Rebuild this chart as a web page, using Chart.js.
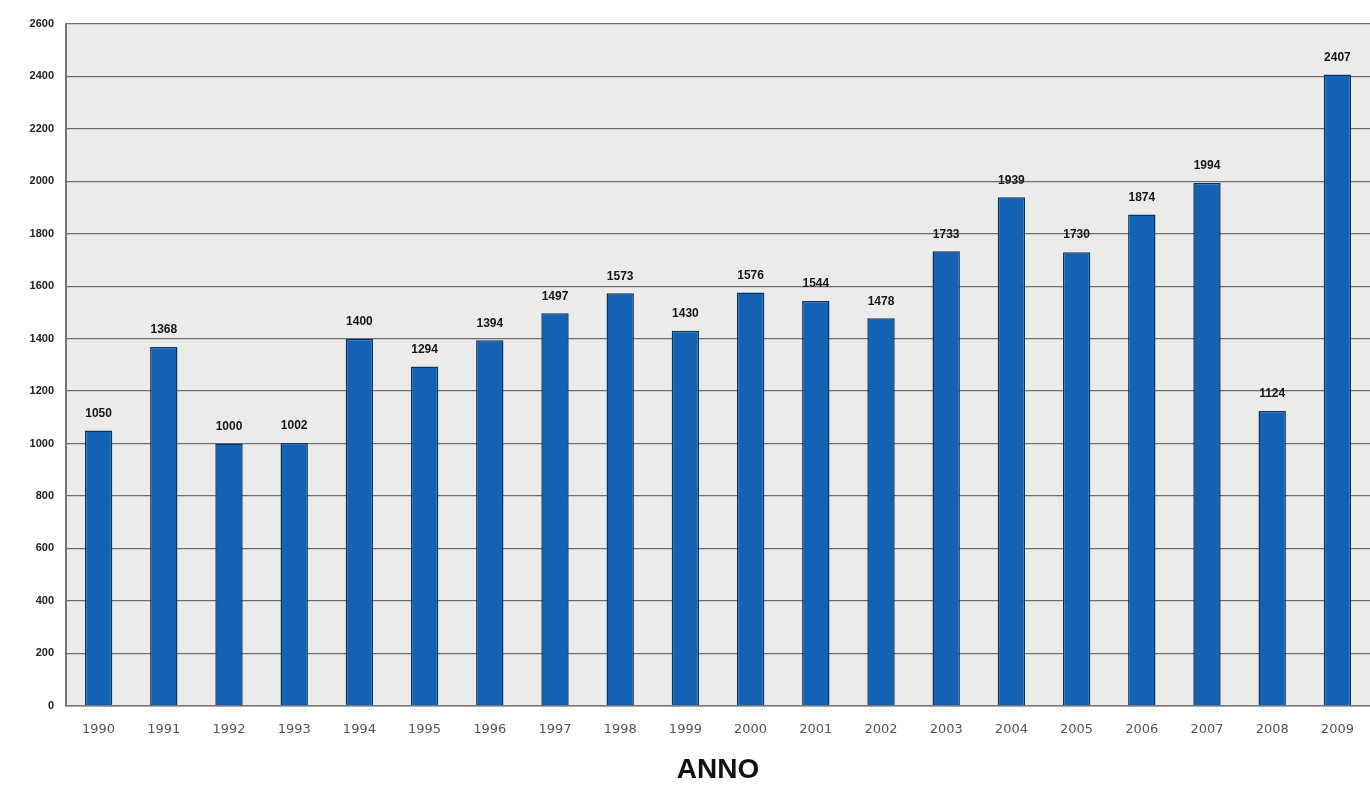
<!DOCTYPE html>
<html>
<head>
<meta charset="utf-8">
<script src="https://cdn.jsdelivr.net/npm/chart.js@4"></script>
<style>
  html, body { margin: 0; padding: 0; background: #ffffff; }
  #wrap { width: 1370px; height: 787px; }
</style>
</head>
<body>
<div id="wrap"><canvas id="chart"></canvas></div>
<script>
const anni = ["1990", "1991", "1992", "1993", "1994", "1995", "1996", "1997", "1998", "1999",
  "2000", "2001", "2002", "2003", "2004", "2005", "2006", "2007", "2008", "2009"];
const valori = [1050, 1368, 1000, 1002, 1400, 1294, 1394, 1497, 1573, 1430,
  1576, 1544, 1478, 1733, 1939, 1730, 1874, 1994, 1124, 2407];

// sfondo grigio dell'area del grafico
const sfondoArea = {
  id: "sfondoArea",
  beforeDraw(chart) {
    const { ctx, chartArea: a } = chart;
    ctx.save();
    ctx.fillStyle = "#ebebe9";
    ctx.fillRect(a.left, a.top, a.right - a.left, a.bottom - a.top);
    ctx.restore();
  },
};

// etichette sopra le barre
const etichette = {
  id: "etichette",
  afterDatasetsDraw(chart) {
    const { ctx } = chart;
    const meta = chart.getDatasetMeta(0);
    ctx.save();
    ctx.font = "bold 12px 'Liberation Sans', Arial, sans-serif";
    ctx.fillStyle = "#151515";
    ctx.textAlign = "center";
    ctx.textBaseline = "bottom";
    meta.data.forEach((bar, i) => {
      ctx.fillText(valori[i], bar.x, bar.y - 11);
    });
    ctx.restore();
  },
};

new Chart(document.getElementById("chart"), {
  type: "bar",
  data: {
    labels: anni,
    datasets: [
      {
        data: valori,
        backgroundColor: "#1462b4",
        borderColor: "#0a3466",
        borderWidth: 1.5,
        categoryPercentage: 1,
        barPercentage: 0.42,
      },
    ],
  },
  options: {
    responsive: true,
    maintainAspectRatio: false,
    animation: false,
    layout: { padding: { top: 24, right: 0, bottom: 0, left: 0 } },
    plugins: {
      legend: { display: false },
      tooltip: { enabled: false },
    },
    scales: {
      x: {
        grid: { display: false },
        border: { color: "#777777", width: 1.5 },
        ticks: {
          color: "#555555",
          font: { family: "'DejaVu Sans', sans-serif", size: 13 },
          padding: 8,
        },
        title: {
          display: true,
          text: "ANNO",
          color: "#111111",
          font: { family: "'Liberation Sans', Arial, sans-serif", size: 28, weight: "bold" },
          padding: { top: 8, bottom: 0 },
        },
      },
      y: {
        min: 0,
        max: 2600,
        ticks: {
          stepSize: 200,
          color: "#222222",
          font: { family: "'Liberation Sans', Arial, sans-serif", size: 11, weight: "bold" },
          padding: 12,
          callback: (v) => String(v),
        },
        grid: { color: "#6f6f6f", lineWidth: 1.3, drawTicks: false },
        border: { color: "#777777", width: 2 },
        afterFit(scale) {
          scale.width = 66;
        },
      },
    },
  },
  plugins: [sfondoArea, etichette],
});
</script>
</body>
</html>
